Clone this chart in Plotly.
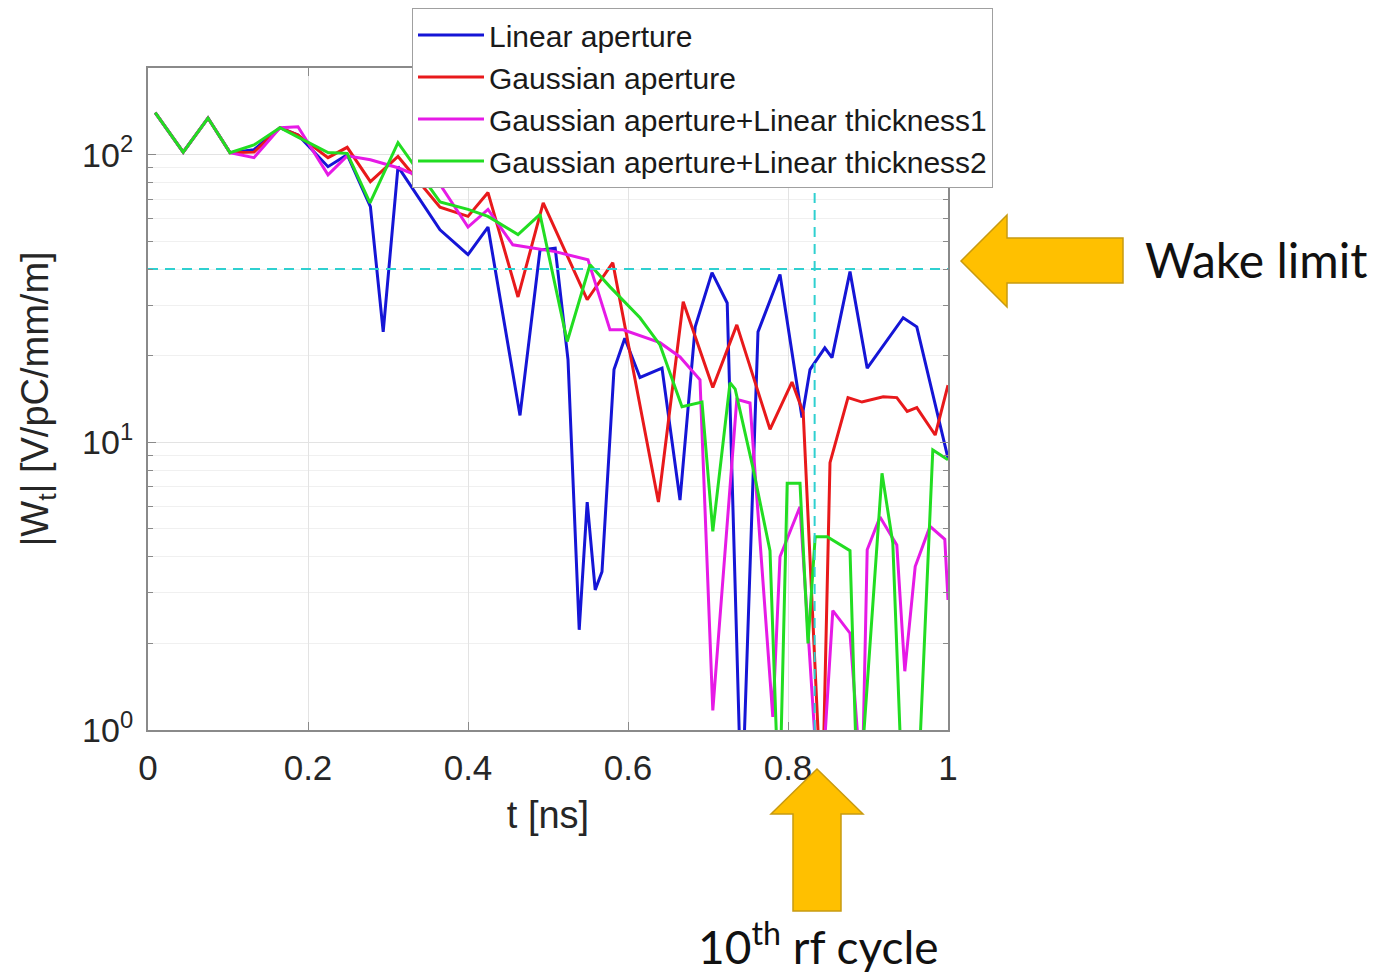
import plotly.graph_objects as go

# ---------------- data ----------------
t_lin = [0.009, 0.044, 0.075, 0.1025, 0.1325, 0.165, 0.1875, 0.225, 0.249, 0.278,
         0.294, 0.3125, 0.365, 0.400, 0.425, 0.465, 0.490, 0.509, 0.525, 0.539,
         0.549, 0.559, 0.5675, 0.5825, 0.596, 0.615, 0.6425, 0.665, 0.684, 0.705,
         0.724, 0.742, 0.7625, 0.790, 0.8175, 0.8275, 0.846, 0.855, 0.8775, 0.899,
         0.944, 0.961, 1.000]
w_lin = [140, 102, 134, 101.6, 104, 124, 117, 90.8, 100, 66,
         24.2, 90.8, 54.8, 44.9, 56, 12.4, 46.6, 47.3, 19.4, 2.23,
         6.2, 3.07, 3.55, 17.9, 23, 16.8, 18.1, 6.3, 25.2, 38.9,
         30.5, 0.5, 24.2, 38.3, 12.2, 17.9, 21.3, 19.7, 39.2, 18.1,
         27.1, 25.2, 8.8]

t_gau = [0.009, 0.044, 0.075, 0.1025, 0.1325, 0.165, 0.1875, 0.225, 0.249, 0.278,
         0.3125, 0.365, 0.400, 0.425, 0.4625, 0.494, 0.549, 0.581, 0.638, 0.669,
         0.706, 0.736, 0.7775, 0.805, 0.819, 0.8425, 0.8525, 0.875, 0.8925, 0.919,
         0.936, 0.949, 0.961, 0.984, 1.000]
w_gau = [140, 102, 134, 101.6, 102, 124, 117, 97.6, 106, 80.5,
         98.5, 65.6, 61, 73.8, 32, 68, 31.3, 42.1, 6.2, 30.8,
         15.5, 25.6, 11.1, 16.2, 12.7, 0.5, 8.5, 14.3, 13.8, 14.4,
         14.3, 12.8, 13.2, 10.6, 15.8]

t_th1 = [0.009, 0.044, 0.075, 0.1025, 0.1325, 0.165, 0.1875, 0.225, 0.249, 0.278,
         0.3125, 0.365, 0.400, 0.425, 0.456, 0.509, 0.550, 0.5775, 0.594, 0.640,
         0.665, 0.690, 0.706, 0.736, 0.7525, 0.781, 0.790, 0.815, 0.840, 0.856,
         0.8775, 0.8925, 0.899, 0.915, 0.936, 0.946, 0.959, 0.9775, 0.996, 1.000]
w_th1 = [140, 102, 134, 101.6, 97.6, 124, 125, 85, 99, 96,
         90, 78.7, 56, 64.5, 48.6, 46, 43.1, 24.6, 24.6, 22.2,
         19.8, 16.5, 1.17, 14.1, 13.7, 1.11, 4.0, 5.97, 0.5, 2.6,
         2.17, 0.6, 4.23, 5.5, 4.4, 1.6, 3.7, 5.1, 4.6, 2.83]

t_th2 = [0.009, 0.044, 0.075, 0.1025, 0.1325, 0.165, 0.1875, 0.225, 0.249, 0.2775,
         0.3125, 0.365, 0.400, 0.425, 0.4625, 0.490, 0.524, 0.5525, 0.5775, 0.615,
         0.640, 0.6675, 0.6925, 0.706, 0.7275, 0.734, 0.756, 0.7775, 0.789, 0.799,
         0.815, 0.825, 0.834, 0.849, 0.8775, 0.8875, 0.9175, 0.931, 0.944, 0.961,
         0.981, 1.000]
w_th2 = [140, 102, 134, 101.6, 108, 124, 115, 101.6, 101, 68,
         110, 68.5, 64.5, 61, 52.7, 62, 22.4, 41.4, 34.7, 27.1,
         21.8, 13.3, 13.8, 4.9, 16.1, 15.3, 8.2, 4.2, 0.5, 7.2,
         7.2, 2.0, 4.7, 4.7, 4.2, 0.5, 7.8, 4.47, 0.5, 0.5,
         9.4, 8.7]

series_names = ["Linear aperture", "Gaussian aperture",
                "Gaussian aperture+Linear thickness1",
                "Gaussian aperture+Linear thickness2"]

wake_limit = 40
t_rf10 = 0.8333

x_tickvals = [0, 0.2, 0.4, 0.6, 0.8, 1]
x_ticktext = ["0", "0.2", "0.4", "0.6", "0.8", "1"]
y_tickvals = [1, 10, 100]
y_ticktext = ["10<sup>0</sup>", "10<sup>1</sup>", "10<sup>2</sup>"]
y_minorvals = [2, 3, 4, 5, 6, 7, 8, 9, 20, 30, 40, 50, 60, 70, 80, 90, 200]

# ---------------- figure ----------------
# The page body has an 8px margin, so figure pixel = screen pixel - 8.
OFF = 8
W, H = 1383 - OFF, 979 - OFF
L, R, T, B = 148, 948, 68, 730  # plot area in screen pixels


def px(x):
    return (x - L) / (R - L)


def py(y):
    return (B - y) / (B - T)


def poly(points):
    return "M " + " L ".join(f"{px(a):.5f},{py(b):.5f}" for a, b in points) + " Z"


colors = ["#1515D6", "#E8191B", "#E61AE6", "#22DD22"]
fig = go.Figure()
for (tx, wy), name, c in zip([(t_lin, w_lin), (t_gau, w_gau), (t_th1, w_th1), (t_th2, w_th2)],
                             series_names, colors):
    fig.add_trace(go.Scatter(x=tx, y=wy, mode="lines", name=name,
                             line=dict(color=c, width=3)))

cyan = "#2FD0D0"
fig.add_trace(go.Scatter(x=[0, 1], y=[wake_limit, wake_limit], mode="lines",
                         showlegend=False, line=dict(color=cyan, width=2, dash="10px,7px")))
fig.add_trace(go.Scatter(x=[t_rf10, t_rf10], y=[1, 200], mode="lines",
                         showlegend=False, line=dict(color=cyan, width=2, dash="10px,7px")))

axis_col = "#8a8a8a"
title_font = dict(family="Liberation Sans, Arial", size=38, color="#262626")

fig.update_xaxes(range=[0, 1], tickmode="array", tickvals=x_tickvals, ticktext=x_ticktext,
                 tickfont=dict(family="Liberation Sans, Arial", size=35, color="#262626"),
                 ticklabelstandoff=6,
                 showline=True, linecolor=axis_col, linewidth=2,
                 mirror="ticks", ticks="inside", ticklen=8, tickcolor=axis_col,
                 showgrid=True, gridcolor="#e3e3e3", gridwidth=1, zeroline=False,
                 title=dict(text="t [ns]", font=title_font, standoff=15))
fig.update_yaxes(type="log", range=[0, 2.30103], tickmode="array",
                 tickvals=y_tickvals, ticktext=y_ticktext,
                 tickfont=dict(family="Liberation Sans, Arial", size=34, color="#262626"),
                 ticklabelstandoff=6,
                 showline=True, linecolor=axis_col, linewidth=2, mirror="ticks",
                 ticks="inside", ticklen=8, tickcolor=axis_col,
                 showgrid=True, gridcolor="#e3e3e3", gridwidth=1, zeroline=False,
                 minor=dict(tickmode="array", tickvals=y_minorvals, ticks="inside",
                            ticklen=5, tickcolor=axis_col, showgrid=True,
                            gridcolor="#f0f0f0", gridwidth=1),
                 title=dict(text="|W<sub>t</sub>| [V/pC/mm/m]", font=title_font, standoff=22))

arrow_fill = "#FFC000"
arrow_line = "#C89A10"
left_arrow = [(961, 261), (1007, 215), (1007, 238), (1123, 238),
              (1123, 283), (1007, 283), (1007, 307)]
up_arrow = [(817, 769), (863, 814), (841, 814), (841, 911),
            (793, 911), (793, 814), (771, 814)]
shapes = []
for pts in (left_arrow, up_arrow):
    shapes.append(dict(type="path", xref="paper", yref="paper", path=poly(pts),
                       fillcolor=arrow_fill, line=dict(color=arrow_line, width=1.5),
                       layer="above"))

annotations = [
    dict(text="Wake limit", xref="paper", yref="paper", x=px(1143), y=py(259),
         xanchor="left", yanchor="middle", showarrow=False,
         font=dict(family="Lato", size=48, color="#111111")),
    dict(text="10<sup>th</sup> rf cycle", xref="paper", yref="paper", x=px(818), y=py(944),
         xanchor="center", yanchor="middle", showarrow=False,
         font=dict(family="Lato", size=46, color="#111111")),
]

fig.update_layout(
    width=W, height=H, autosize=False,
    margin=dict(l=L - OFF, r=W - (R - OFF), t=T - OFF, b=H - (B - OFF), pad=0,
                autoexpand=False),
    paper_bgcolor="white", plot_bgcolor="white",
    shapes=shapes, annotations=annotations,
    legend=dict(x=px(412), y=py(8), xanchor="left", yanchor="top",
                bgcolor="white", bordercolor="#a0a0a0", borderwidth=1,
                font=dict(family="Liberation Sans, Arial", size=30, color="#1a1a1a"),
                itemwidth=66, tracegroupgap=0),
    showlegend=True,
)

fig.write_html("out.html")
